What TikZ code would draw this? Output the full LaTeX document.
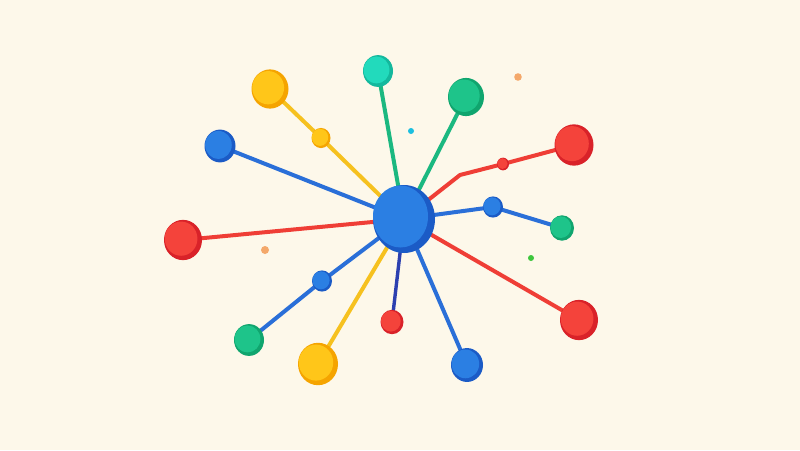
\documentclass[tikz,border=0pt]{standalone}
\usetikzlibrary{calc}
\definecolor{bg}{HTML}{FDF8EA}
\definecolor{bluel}{HTML}{2B7FE3}
\definecolor{blued}{HTML}{1B5BC6}
\definecolor{redl}{HTML}{F4433B}
\definecolor{redd}{HTML}{D92229}
\definecolor{yell}{HTML}{FFC619}
\definecolor{yeld}{HTML}{F5A400}
\definecolor{grnl}{HTML}{1EC48A}
\definecolor{grnd}{HTML}{10A56E}
\definecolor{teall}{HTML}{22DABC}
\definecolor{teald}{HTML}{14B89D}
\definecolor{navy}{HTML}{2C40B0}
\definecolor{blueline}{HTML}{2A6FD8}
\definecolor{redline}{HTML}{EF3E36}
\definecolor{yelline}{HTML}{F6C11F}
\definecolor{grnline}{HTML}{1BB880}
\definecolor{dotorange}{HTML}{F4A86A}
\definecolor{dotcyan}{HTML}{1BBFE0}
\definecolor{dotgreen}{HTML}{3DC63D}
\newcommand\orb[4]{%
  \fill[#4] (#1) ellipse[x radius=#2pt, y radius=1.06*#2pt];
  \fill[#3] ([shift={(-0.1*#2,-0.07*#2)}]#1) ellipse[x radius=0.86*#2pt, y radius=0.9*#2pt];
}
\begin{document}
\begin{tikzpicture}[x=1pt,y=-1pt,
  link/.style={line width=4pt, line cap=round, line join=round}]
\fill[bg] (0,0) rectangle (800,450);
\useasboundingbox (0,0) rectangle (800,450);
% centres
\coordinate (hub) at (404,219);
\coordinate (ytl) at (270,89);
\coordinate (ymid) at (321,138);
\coordinate (btl) at (220,146);
\coordinate (rl) at (183,240);
\coordinate (ttop) at (378,71);
\coordinate (gtr) at (466,97);
\coordinate (bend) at (460,175);
\coordinate (rmid) at (503,164);
\coordinate (rtr) at (574,145);
\coordinate (bmr) at (493,207);
\coordinate (gr) at (562,228);
\coordinate (rbr) at (579,320);
\coordinate (bbr) at (467,365);
\coordinate (rsm) at (392,322);
\coordinate (yb) at (318,364);
\coordinate (bml) at (322,281);
\coordinate (gbl) at (249,340);
\coordinate (d1) at (518,77);
\coordinate (d2) at (411,131);
\coordinate (d3) at (265,250);
\coordinate (d4) at (531,258);
% connectors
\draw[link,yelline] (hub) -- (ymid) -- (ytl);
\draw[link,blueline] (hub) -- (btl);
\draw[link,redline] (hub) -- (rl);
\draw[link,grnline] (hub) -- (ttop);
\draw[link,grnline] (hub) -- (gtr);
\draw[link,redline] (hub) -- (bend) -- (rmid) -- (rtr);
\draw[link,blueline] (hub) -- (bmr) -- (gr);
\draw[link,redline] (hub) -- (rbr);
\draw[link,blueline] (hub) -- (bbr);
\draw[link,navy,line width=3.4pt] (hub) -- (rsm);
\draw[link,yelline] (hub) -- (yb);
\draw[link,blueline] (hub) -- (bml) -- (gbl);
% balls
\orb{ytl}{18.5}{yell}{yeld}
\orb{ymid}{9.5}{yell}{yeld}
\orb{btl}{15.5}{bluel}{blued}
\orb{rl}{19}{redl}{redd}
\orb{ttop}{15}{teall}{teald}
\orb{gtr}{18}{grnl}{grnd}
\orb{rmid}{6}{redl}{redd}
\orb{rtr}{19.5}{redl}{redd}
\orb{bmr}{10}{bluel}{blued}
\orb{gr}{12}{grnl}{grnd}
\orb{rbr}{19}{redl}{redd}
\orb{bbr}{16}{bluel}{blued}
\orb{rsm}{11.5}{redl}{redd}
\orb{yb}{20}{yell}{yeld}
\orb{bml}{10}{bluel}{blued}
\orb{gbl}{15}{grnl}{grnd}
% hub
\fill[blued] (hub) ellipse[x radius=31pt, y radius=34pt];
\fill[bluel] ([shift={(-3.5,-2.5)}]hub) ellipse[x radius=27.5pt, y radius=31pt];
% specks
\fill[dotorange] (d1) circle[radius=3.8pt];
\fill[dotcyan] (d2) circle[radius=3pt];
\fill[dotorange] (d3) circle[radius=4pt];
\fill[dotgreen] (d4) circle[radius=3pt];
\end{tikzpicture}
\end{document}
